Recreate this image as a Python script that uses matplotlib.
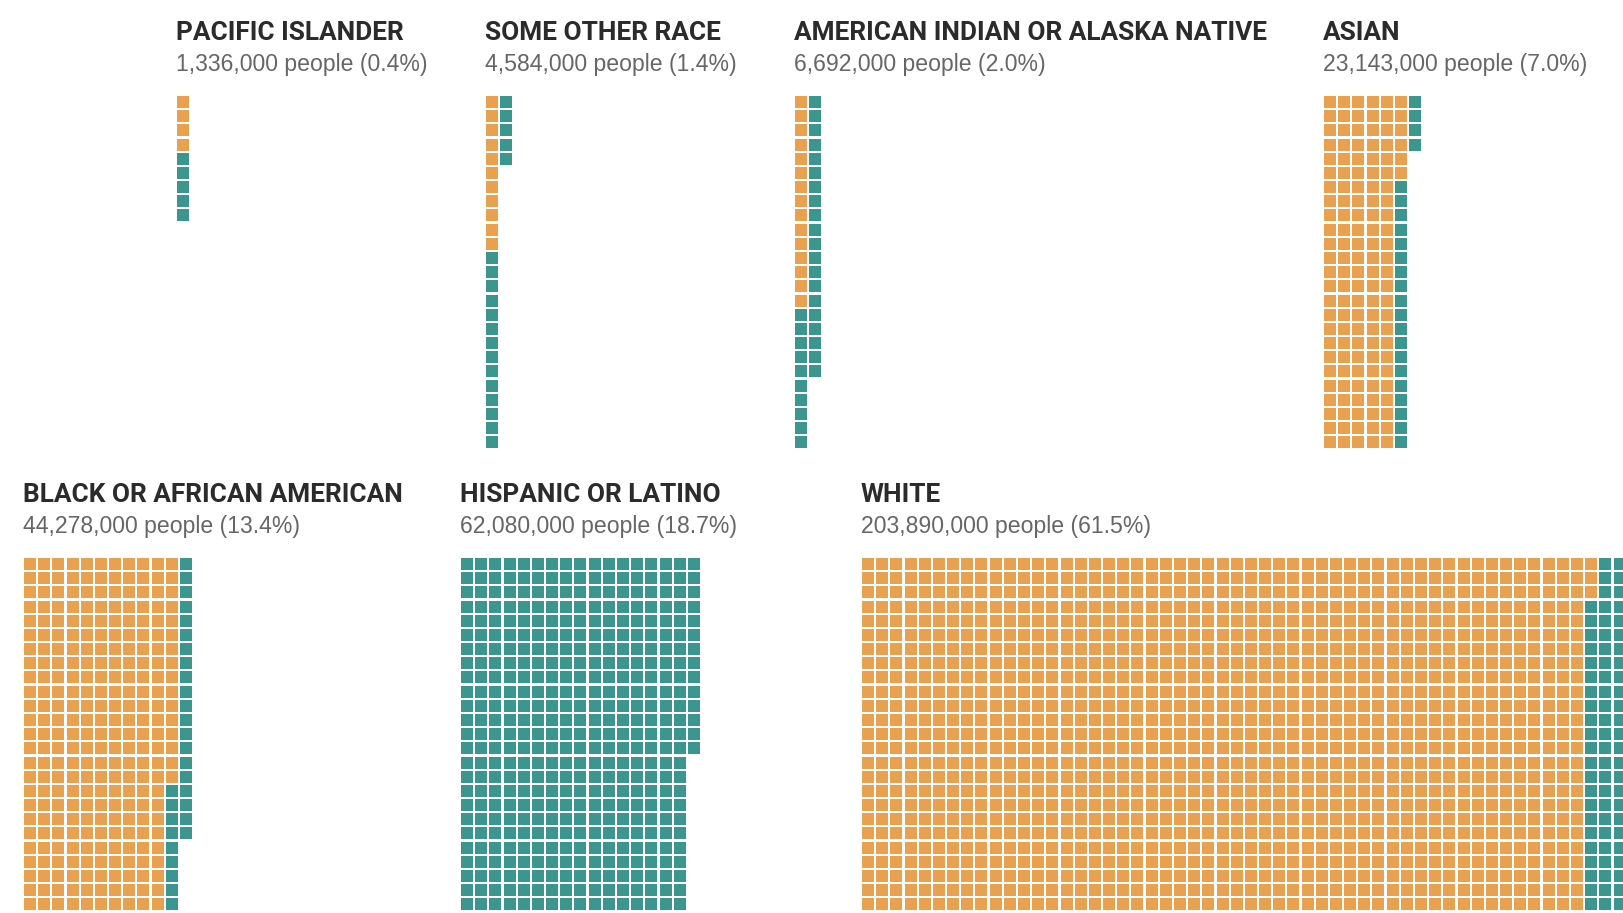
import matplotlib
matplotlib.use("Agg")
import matplotlib.pyplot as plt
from matplotlib.patches import Rectangle
from matplotlib.collections import PatchCollection

# one square = 150,000 people, columns filled top to bottom, 25 squares high
groups = ["PACIFIC ISLANDER", "SOME OTHER RACE", "AMERICAN INDIAN OR ALASKA NATIVE",
          "ASIAN", "BLACK OR AFRICAN AMERICAN", "HISPANIC OR LATINO", "WHITE"]
people = [1336000, 4584000, 6692000, 23143000, 44278000, 62080000, 203890000]
share = [0.4, 1.4, 2.0, 7.0, 13.4, 18.7, 61.5]
not_hispanic = [4, 11, 15, 131, 266, 0, 1278]
hispanic = [5, 19, 30, 23, 29, 414, 81]

ROWS = 25
PITCH = 14.18
CELL = 12.0
ORANGE = "#e9a04f"
TEAL = "#3b9690"

# top-left corner of each block (pixels)
origin = [(177, 96), (486, 96), (795, 96), (1324, 96),
          (24, 558), (461, 558), (862, 558)]

W, H = 1623, 913
fig = plt.figure(figsize=(W / 100, H / 100), dpi=100)
ax = fig.add_axes([0, 0, 1, 1])
ax.set_xlim(0, W)
ax.set_ylim(H, 0)
ax.axis("off")

title_font = ["Roboto", "DejaVu Sans"]
sub_font = ["Liberation Sans", "DejaVu Sans"]

for name, pop, pct, n_a, n_b, (x0, y0) in zip(groups, people, share, not_hispanic, hispanic, origin):
    cells_a, cells_b = [], []
    for i in range(n_a + n_b):
        col, row = divmod(i, ROWS)
        r = Rectangle((x0 + col * PITCH, y0 + row * PITCH), CELL, CELL)
        (cells_a if i < n_a else cells_b).append(r)
    ax.add_collection(PatchCollection(cells_a, facecolor=ORANGE, edgecolor="none"))
    ax.add_collection(PatchCollection(cells_b, facecolor=TEAL, edgecolor="none"))

    ax.text(x0 - 1, y0 - 56, name, family=title_font, fontweight="bold", fontsize=18.9,
            color="#2b2b2b", va="baseline", ha="left")
    ax.text(x0 - 1, y0 - 24.5, f"{pop:,} people ({pct:.1f}%)", family=sub_font, fontsize=16.6,
            color="#666666", va="baseline", ha="left")

fig.savefig("out.png", dpi=100)
